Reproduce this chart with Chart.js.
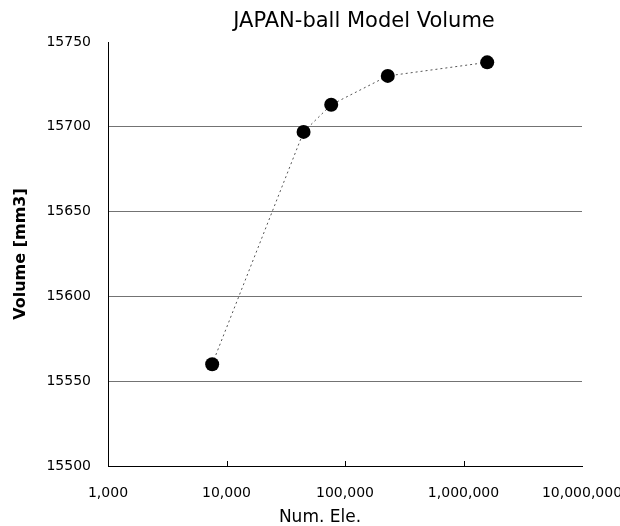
<!DOCTYPE html>
<html>
<head>
<meta charset="utf-8">
<script src="https://cdn.jsdelivr.net/npm/chart.js@4.4.1/dist/chart.umd.min.js"></script>
<style>
  html, body { margin: 0; padding: 0; background: #fff; }
  #wrap { width: 620px; height: 526px; }
</style>
</head>
<body>
<div id="wrap"><canvas id="c" width="620" height="526"></canvas></div>
<script>
// Mesh element counts and resulting model volume
const numElements = [7570, 44700, 76500, 229600, 1585000];
const volumes = [15560, 15697, 15713, 15730, 15738];
const xTickValues = [1000, 10000, 100000, 1000000, 10000000];
const yMin = 15500, yMax = 15750, yStep = 50;

const chartTitle = 'JAPAN-ball Model Volume';
const xTitle = 'Num. Ele.';
const yTitle = 'Volume [mm3]';

const FONT = '"DejaVu Sans", sans-serif';

// Chart title and x-axis caption, placed like the original layout
const captions = {
  id: 'captions',
  afterDraw(chart) {
    const ctx = chart.ctx;
    ctx.save();
    ctx.fillStyle = '#000';
    ctx.textAlign = 'center';
    ctx.textBaseline = 'middle';
    ctx.font = '21px ' + FONT;
    ctx.fillText(chartTitle, 364, 22);
    ctx.font = '17px ' + FONT;
    ctx.fillText(xTitle, 320, 518);
    ctx.restore();
  }
};

// Short inward tick marks on the bottom axis
const innerTicks = {
  id: 'innerTicks',
  afterDatasetsDraw(chart) {
    const x = chart.scales.x, y = chart.scales.y;
    const ctx = chart.ctx;
    ctx.save();
    ctx.strokeStyle = '#000';
    ctx.lineWidth = 1;
    ctx.beginPath();
    xTickValues.slice(1, -1).forEach(v => {
      const px = Math.round(x.getPixelForValue(v)) + 0.5;
      ctx.moveTo(px, y.bottom);
      ctx.lineTo(px, y.bottom - 5);
    });
    ctx.stroke();
    ctx.restore();
  }
};

new Chart(document.getElementById('c'), {
  type: 'line',
  data: {
    datasets: [{
      data: numElements.map((n, i) => ({ x: n, y: volumes[i] })),
      borderColor: '#555',
      borderWidth: 1,
      borderDash: [2, 3],
      pointRadius: 7,
      pointHoverRadius: 7,
      pointBackgroundColor: '#000',
      pointBorderColor: '#000',
      pointBorderWidth: 0,
      tension: 0,
      fill: false
    }]
  },
  options: {
    responsive: false,
    animation: false,
    events: [],
    layout: { padding: { top: 42, right: 38, left: 0, bottom: 0 } },
    plugins: {
      legend: { display: false },
      tooltip: { enabled: false },
      title: { display: false }
    },
    scales: {
      x: {
        type: 'logarithmic',
        min: xTickValues[0],
        max: xTickValues[xTickValues.length - 1],
        afterBuildTicks(scale) {
          scale.ticks = xTickValues.map(v => ({ value: v, major: true }));
        },
        afterFit(scale) {
          scale.height = 60;
          scale.paddingLeft = 0;
          scale.paddingRight = 0;
        },
        grid: { display: true, drawOnChartArea: false, drawTicks: false,
                color: 'rgba(0,0,0,0)' },
        border: { display: true, color: '#000', width: 1 },
        ticks: {
          autoSkip: false,
          maxRotation: 0,
          padding: 19,
          color: '#000',
          font: { family: FONT, size: 14 },
          callback: (v) => Number(v).toLocaleString('en-US')
        },
        title: { display: false, text: xTitle }
      },
      y: {
        min: yMin,
        max: yMax,
        afterFit(scale) {
          scale.width = 108;
          scale.paddingTop = 0;
          scale.paddingBottom = 0;
        },
        grid: {
          drawTicks: false,
          lineWidth: 1,
          color: (c) => (c.tick && (c.tick.value === yMax || c.tick.value === yMin))
            ? 'rgba(0,0,0,0)' : 'rgba(0,0,0,0.55)'
        },
        border: { display: true, color: '#000', width: 1 },
        ticks: {
          stepSize: yStep,
          padding: 17,
          color: '#000',
          font: { family: FONT, size: 14 },
          callback: (v) => String(v)
        },
        title: {
          display: true,
          text: yTitle,
          color: '#000',
          font: { family: FONT, size: 16, weight: 'bold' },
          padding: { top: 11, bottom: 4 }
        }
      }
    }
  },
  plugins: [captions, innerTicks]
});
</script>
</body>
</html>
